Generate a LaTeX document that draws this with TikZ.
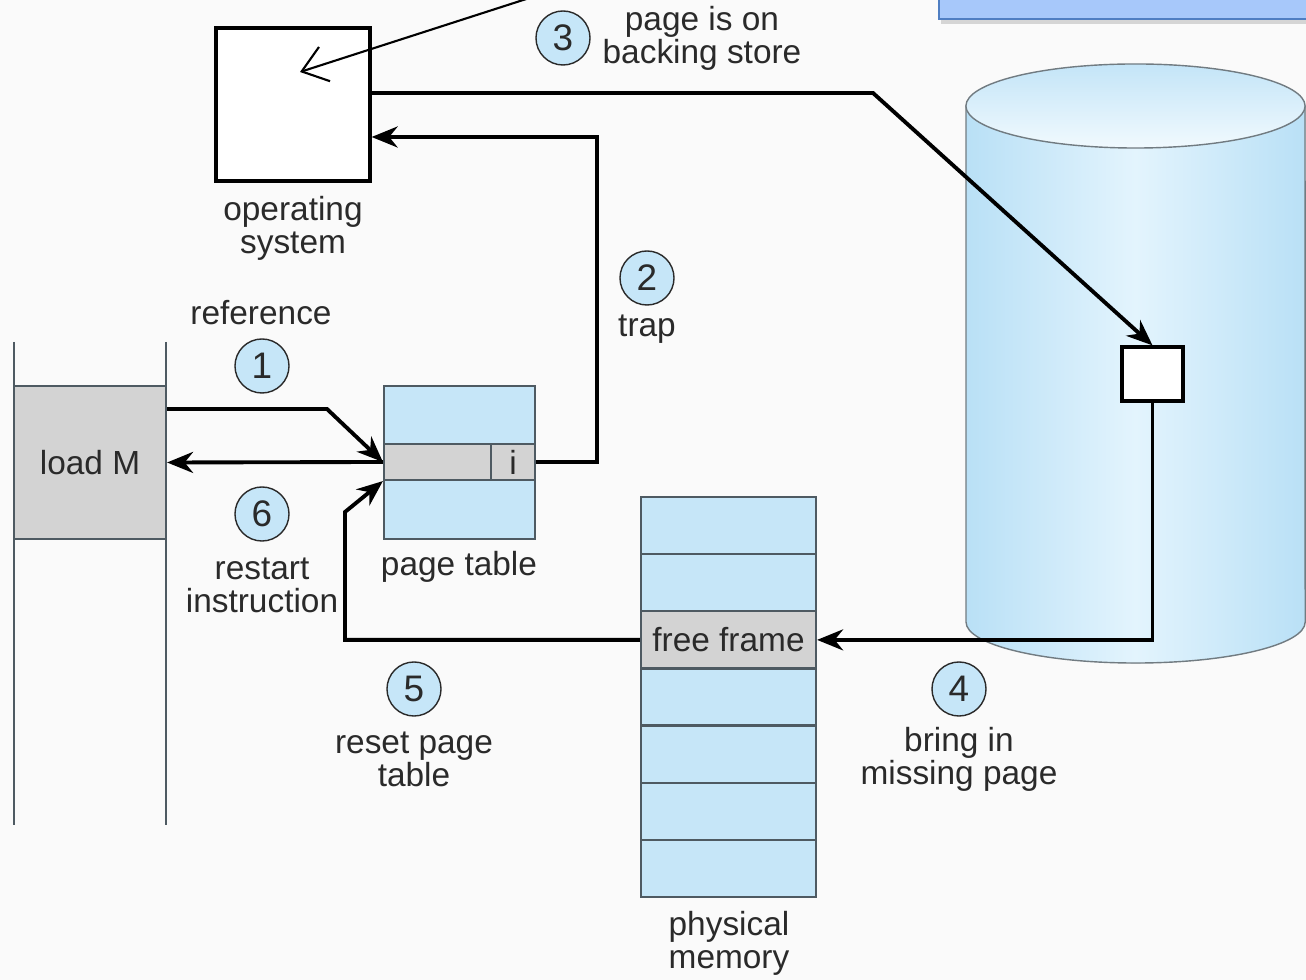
\documentclass[tikz,border=0pt]{standalone}
\usepackage{fontspec}
\setmainfont{Liberation Sans}
\usetikzlibrary{arrows.meta,calc,positioning,shadows}

\definecolor{paleblue}{HTML}{C6E6F8}
\definecolor{cellgray}{HTML}{D3D3D3}
\definecolor{lineedge}{HTML}{4E5A62}
\definecolor{txt}{HTML}{2A2A2A}
\definecolor{diskedge}{HTML}{B9E0F6}
\definecolor{diskmid}{HTML}{E3F4FD}
\definecolor{noteblue}{HTML}{A7C8FA}
\definecolor{noteedge}{HTML}{4F7EC2}

\begin{document}
\begin{tikzpicture}[x=0.01cm,y=-0.01cm,
    font=\fontsize{9.5}{9.4}\selectfont,text=txt,
    blk/.style={draw=black,line width=0.9pt,fill=white,inner sep=0pt},
    cell/.style={draw=lineedge,line width=0.6pt,fill=paleblue,inner sep=0pt},
    graycell/.style={cell,fill=cellgray},
    num/.style={circle,draw=txt,line width=0.4pt,fill=paleblue,inner sep=0pt,
      minimum size=0.54cm,font=\fontsize{10.5}{10}\selectfont},
    lbl/.style={align=center,inner sep=0pt},
    flow/.style={line width=1.1pt,-{Stealth[length=2.6mm,width=2.1mm]}},
    pointer/.style={line width=0.6pt,-{Straight Barb[length=2.4mm,width=3.6mm]}}]
    \clip (0,0) rectangle (1306,980);
    \fill[white!98!black] (0,0) rectangle (1306,980);
    % note box, cut by the top edge
    \fill[noteblue,draw=noteedge,line width=0.6pt,drop shadow={opacity=0.3,shadow xshift=0.02cm,shadow yshift=-0.05cm}] (939,-10) rectangle (1320,19);
    % backing store (cylinder)
    \fill[left color=diskedge,right color=diskedge,middle color=diskmid] (966,106) -- (966,622)
      arc[start angle=180,end angle=360,x radius=1.695cm,y radius=0.41cm] -- (1305,106) -- cycle;
    \draw[lineedge!80,line width=0.4pt] (966,106) -- (966,622)
      arc[start angle=180,end angle=360,x radius=1.695cm,y radius=0.41cm] -- (1305,106);
    \draw[lineedge!80,line width=0.4pt,top color=diskedge!85!white,bottom color=diskmid!50!white]
      (1135.5,106) ellipse[x radius=1.695cm,y radius=0.42cm];
    % process: the two rails and the instruction
    \draw[lineedge,line width=0.5pt] (14,342) -- (14,825);
    \draw[lineedge,line width=0.5pt] (166,342) -- (166,825);
    \node[graycell,minimum width=1.52cm,minimum height=1.53cm] (loadM) at (90,462.5) {load M};
    % operating system and the page on disk
    \node[blk,minimum width=1.54cm,minimum height=1.53cm] (os) at (293,104.5) {};
    \node[blk,minimum width=0.61cm,minimum height=0.54cm] (disk) at (1152.5,374) {};
    % page table
    \node[cell,minimum width=1.51cm,minimum height=0.58cm] (ptTop) at (459.5,415) {};
    \node[graycell,minimum width=1.07cm,minimum height=0.36cm] (ptEntry) at (437.5,462) {};
    \node[graycell,minimum width=0.44cm,minimum height=0.36cm] (ptI) at (513,462) {i};
    \node[cell,minimum width=1.51cm,minimum height=0.59cm] (ptBot) at (459.5,509.5) {};
    % physical memory
    \foreach \k in {1,2,4,5,6,7}
      \node[cell,minimum width=1.75cm,minimum height=0.5714cm] (mem\k) at (728.5,{497+57.14*(\k-0.5)}) {};
    \node[graycell,minimum width=1.75cm,minimum height=0.5714cm] (free) at (728.5,639.9) {free frame};
    % labels
    \node[lbl] (osLbl) at (293,228) {operating\\system};
    \node[lbl] (storeLbl) at (702,38) {page is on\\backing store};
    \node[lbl] (refLbl) at (261,313) {reference};
    \node[lbl] (trapLbl) at (647,329) {trap};
    \node[lbl] (restartLbl) at (262,585) {restart\\instruction};
    \node[lbl] (ptLbl) at (459,567) {page table};
    \node[lbl] (resetLbl) at (414,759) {reset page\\table};
    \node[lbl] (bringLbl) at (959,759) {bring in\\missing page};
    \node[lbl] (memLbl) at (729,943) {physical\\memory};
    % step numbers
    \node[num] (n1) at (262,366) {1};
    \node[num] (n2) at (647,278) {2};
    \node[num] (n3) at (563,38) {3};
    \node[num] (n4) at (959,689) {4};
    \node[num] (n5) at (414,689) {5};
    \node[num] (n6) at (262,514) {6};
    % bends of the connectors
    \coordinate (c1) at (327,409);
    \coordinate (c2) at (597,137);
    \coordinate (c3) at (873,93);
    \coordinate (c5) at (345,512);
    \coordinate (pin) at (300,72);
    \coordinate (pout) at (548,-8);
    % connectors
    \draw[flow] (loadM.east |- c1) -- (c1) -- (ptEntry.west);
    \draw[flow] (ptI.east) -| (c2) -- (os.east |- c2);
    \draw[flow] (os.east |- c3) -- (c3) -- (disk.north);
    \draw[flow] (disk.south) |- (free.east);
    \draw[flow] (free.west) -| (c5) -- (ptEntry.south west);
    \draw[flow] (ptEntry.west) -- (loadM.east);
    \draw[pointer] (pout) -- (pin);
\end{tikzpicture}
\end{document}
